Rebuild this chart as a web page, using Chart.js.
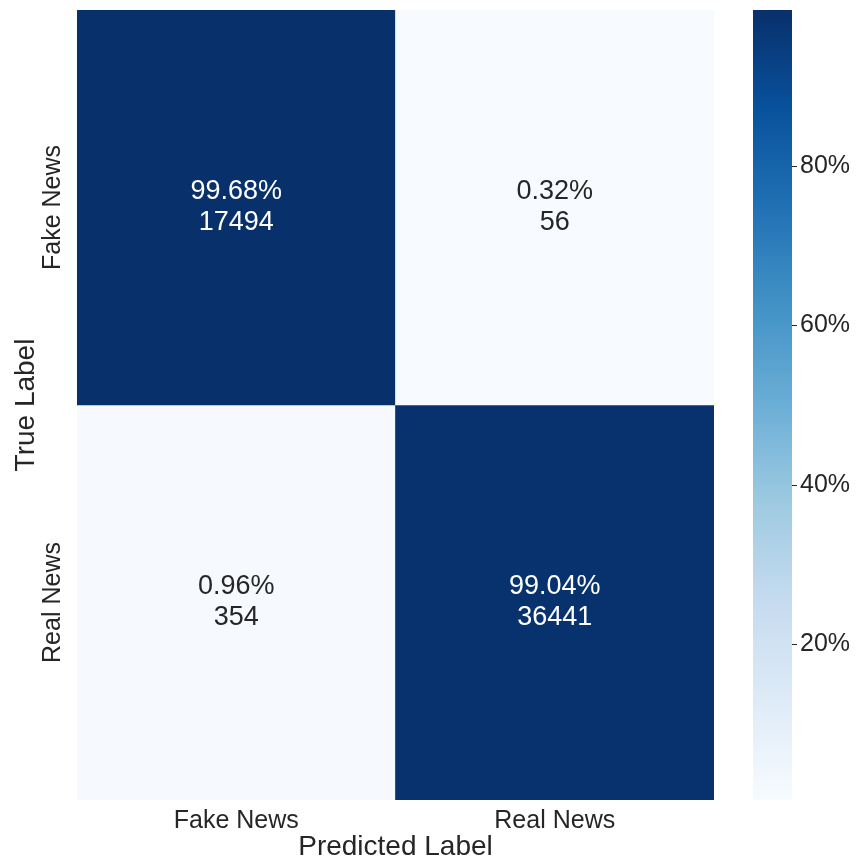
<!DOCTYPE html>
<html>
<head>
<meta charset="utf-8">
<script src="https://cdn.jsdelivr.net/npm/chart.js@4/dist/chart.umd.min.js"></script>
<style>
  html, body { margin: 0; padding: 0; background: #ffffff; }
  #wrap { width: 856px; height: 861px; }
</style>
</head>
<body>
<div id="wrap"><canvas id="c" width="856" height="861"></canvas></div>
<script>
// ---- Data ----
const predictedLabels = ['Fake News', 'Real News'];
const trueLabels = ['Fake News', 'Real News'];
const fakeRowPercents = [99.68, 0.32];
const realRowPercents = [0.96, 99.04];
const fakeRowCounts = [17494, 56];
const realRowCounts = [354, 36441];
const colorbarTicks = [20, 40, 60, 80];
const colorMin = 0.32;
const colorMax = 99.68;

// ---- Blues colormap ----
const blues = ['#f7fbff', '#deebf7', '#c6dbef', '#9ecae1', '#6baed6', '#4292c6', '#2171b5', '#08519c', '#08306b'];
function hexToRgb(h) { return [parseInt(h.slice(1,3),16), parseInt(h.slice(3,5),16), parseInt(h.slice(5,7),16)]; }
function bluesAt(t) {
  t = Math.max(0, Math.min(1, t));
  const pos = t * (blues.length - 1);
  const i = Math.min(Math.floor(pos), blues.length - 2);
  const f = pos - i;
  const a = hexToRgb(blues[i]), b = hexToRgb(blues[i + 1]);
  const c = a.map((v, k) => Math.round(v + (b[k] - v) * f));
  return 'rgb(' + c.join(',') + ')';
}
function norm(v) { return (v - colorMin) / (colorMax - colorMin); }

const rowPercents = [fakeRowPercents, realRowPercents];
const rowCounts = [fakeRowCounts, realRowCounts];

const datasets = trueLabels.map((lab, r) => {
  const lo = trueLabels.length - 1 - r;
  return {
    label: lab,
    data: predictedLabels.map(() => [lo, lo + 1]),
    backgroundColor: rowPercents[r].map(v => bluesAt(norm(v))),
    borderWidth: 0,
    grouped: false,
    barPercentage: 1,
    categoryPercentage: 1,
    percents: rowPercents[r],
    counts: rowCounts[r]
  };
});

const FONT = '"Liberation Sans", Arial, Helvetica, sans-serif';
const TXT = '#262626';

const annotatePlugin = {
  id: 'annotate',
  afterDatasetsDraw(chart) {
    const ctx = chart.ctx;
    ctx.save();
    ctx.font = '27px ' + FONT;
    ctx.textAlign = 'center';
    ctx.textBaseline = 'middle';
    chart.data.datasets.forEach((ds, di) => {
      const meta = chart.getDatasetMeta(di);
      meta.data.forEach((bar, i) => {
        const cy = (bar.y + bar.base) / 2;
        const v = ds.percents[i];
        ctx.fillStyle = norm(v) > 0.5 ? '#ffffff' : TXT;
        ctx.fillText(v.toFixed(2) + '%', bar.x, cy - 15.5);
        ctx.fillText(String(ds.counts[i]), bar.x, cy + 15.5);
      });
    });
    ctx.restore();
  }
};

const sidePlugin = {
  id: 'side',
  afterDraw(chart) {
    const ctx = chart.ctx;
    const area = chart.chartArea;
    const ys = chart.scales.y;
    // rotated y tick labels
    ctx.save();
    ctx.font = '25px ' + FONT;
    ctx.fillStyle = TXT;
    ctx.textAlign = 'center';
    ctx.textBaseline = 'middle';
    trueLabels.forEach((lab, r) => {
      const y = ys.getPixelForValue(trueLabels.length - 1 - r + 0.5);
      ctx.save();
      ctx.translate(area.left - 24, y);
      ctx.rotate(-Math.PI / 2);
      ctx.fillText(lab, 0, 0);
      ctx.restore();
    });
    ctx.restore();

    // colorbar
    const cb = chart.scales.cb;
    const x0 = area.right + 39;
    const w = 39;
    const yTop = cb.getPixelForValue(colorMax);
    const yBot = cb.getPixelForValue(colorMin);
    ctx.save();
    const g = ctx.createLinearGradient(0, yBot, 0, yTop);
    blues.forEach((c, i) => g.addColorStop(i / (blues.length - 1), c));
    ctx.fillStyle = g;
    ctx.fillRect(x0, yTop, w, yBot - yTop);
    ctx.strokeStyle = TXT;
    ctx.lineWidth = 1;
    ctx.font = '25px ' + FONT;
    ctx.fillStyle = TXT;
    ctx.textAlign = 'left';
    ctx.textBaseline = 'middle';
    colorbarTicks.forEach(v => {
      const y = Math.round(cb.getPixelForValue(v)) + 0.5;
      ctx.beginPath();
      ctx.moveTo(x0 + w, y);
      ctx.lineTo(x0 + w + 5, y);
      ctx.stroke();
      ctx.fillText(v + '%', x0 + w + 8, y);
    });
    ctx.restore();
  }
};

new Chart(document.getElementById('c'), {
  type: 'bar',
  data: { labels: predictedLabels, datasets },
  options: {
    responsive: false,
    animation: false,
    devicePixelRatio: 1,
    layout: { padding: { top: 10, right: 142, left: 0, bottom: 0 } },
    plugins: { legend: { display: false }, tooltip: { enabled: false } },
    scales: {
      x: {
        type: 'category',
        grid: { display: false, drawTicks: false },
        border: { display: false },
        ticks: { color: TXT, font: { family: FONT, size: 25 }, padding: 6, maxRotation: 0 },
        title: { display: true, text: 'Predicted Label', color: TXT, font: { family: FONT, size: 28, lineHeight: 1 }, padding: { top: 0, bottom: 0 } },
        afterFit(s) { s.height = 61; }
      },
      y: {
        type: 'linear',
        min: 0,
        max: 2,
        grid: { display: false, drawTicks: false },
        border: { display: false },
        ticks: { display: false },
        title: { display: true, text: 'True Label', color: TXT, font: { family: FONT, size: 28, lineHeight: 1 }, padding: { top: 12, bottom: 0 } },
        afterFit(s) { s.width = 77; }
      },
      cb: {
        type: 'linear',
        position: 'right',
        display: false,
        min: colorMin,
        max: colorMax
      }
    }
  },
  plugins: [annotatePlugin, sidePlugin]
});
</script>
</body>
</html>
